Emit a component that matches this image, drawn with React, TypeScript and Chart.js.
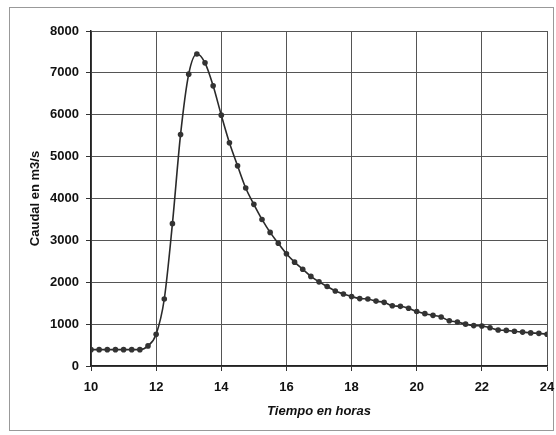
import React, { useEffect, useRef } from "react";
import { Chart, registerables } from "chart.js";

Chart.register(...registerables);

const hours: number[] = [
  10, 10.25, 10.5, 10.75, 11, 11.25, 11.5, 11.75,
  12, 12.25, 12.5, 12.75, 13, 13.25, 13.5, 13.75,
  14, 14.25, 14.5, 14.75, 15, 15.25, 15.5, 15.75,
  16, 16.25, 16.5, 16.75, 17, 17.25, 17.5, 17.75,
  18, 18.25, 18.5, 18.75, 19, 19.25, 19.5, 19.75,
  20, 20.25, 20.5, 20.75, 21, 21.25, 21.5, 21.75,
  22, 22.25, 22.5, 22.75, 23, 23.25, 23.5, 23.75, 24,
];

const caudal: number[] = [
  390, 390, 390, 390, 390, 390, 390, 480,
  760, 1600, 3400, 5530, 6970, 7450, 7240, 6690,
  5990, 5330, 4780, 4250, 3860, 3500, 3190, 2930,
  2680, 2480, 2310, 2140, 2010, 1900, 1790, 1720,
  1660, 1610, 1600, 1550, 1520, 1440, 1425, 1380,
  1300, 1250, 1210, 1170, 1080, 1050, 1000, 965,
  955, 915, 860, 850, 830, 810, 790, 780, 760,
];

const xTitle = "Tiempo en horas";
const yTitle = "Caudal en m3/s";

export default function App() {
  const ref = useRef<HTMLCanvasElement | null>(null);

  useEffect(() => {
    if (!ref.current) return;
    const font = "'Liberation Sans', Arial, sans-serif";
    const chart = new Chart(ref.current, {
      type: "line",
      data: {
        datasets: [
          {
            data: hours.map((h, i) => ({ x: h, y: caudal[i] })),
            borderColor: "#2a2a2a",
            borderWidth: 1.6,
            backgroundColor: "#333",
            pointBackgroundColor: "#333",
            pointBorderColor: "#333",
            pointRadius: 2.8,
            pointBorderWidth: 0,
            cubicInterpolationMode: "monotone",
            fill: false,
          },
        ],
      },
      options: {
        animation: false,
        responsive: false,
        maintainAspectRatio: false,
        layout: { padding: { left: 23, right: 9, top: 31, bottom: 11 } },
        plugins: { legend: { display: false }, tooltip: { enabled: false } },
        scales: {
          x: {
            type: "linear",
            min: 10,
            max: 24,
            afterFit: (s: any) => {
              s.height = 58;
              s.paddingRight = 0;
              s.paddingLeft = 0;
            },
            ticks: {
              stepSize: 2,
              color: "#111",
              padding: 9,
              font: { family: font, size: 13, weight: "bold" },
            },
            grid: { color: "#555", lineWidth: 1, tickLength: 5, tickColor: "#333" },
            border: { color: "#222", width: 1.5 },
            title: {
              display: true,
              text: xTitle,
              color: "#111",
              padding: { top: 0, bottom: 5 },
              font: { family: font, size: 13, weight: "bold", style: "italic" },
            },
          },
          y: {
            min: 0,
            max: 8000,
            afterFit: (s: any) => {
              s.width = 68;
            },
            ticks: {
              stepSize: 1000,
              color: "#111",
              padding: 7,
              callback: (v: any) => String(v),
              font: { family: font, size: 13, weight: "bold" },
            },
            grid: { color: "#555", lineWidth: 1, tickLength: 5, tickColor: "#333" },
            border: { color: "#222", width: 1.5 },
            title: {
              display: true,
              text: yTitle,
              color: "#111",
              padding: { top: 5, bottom: 0 },
              font: { family: font, size: 13, weight: "bold" },
            },
          },
        },
      },
    });
    return () => chart.destroy();
  }, []);

  return (
    <div style={{ position: "absolute", left: 0, top: 0, width: 556, height: 435, background: "#fff" }}>
      <div
        style={{
          position: "absolute",
          left: 9,
          top: 7,
          width: 543,
          height: 422,
          border: "1px solid #999",
        }}
      />
      <canvas ref={ref} width={556} height={435} style={{ position: "absolute", left: 0, top: 0 }} />
    </div>
  );
}
